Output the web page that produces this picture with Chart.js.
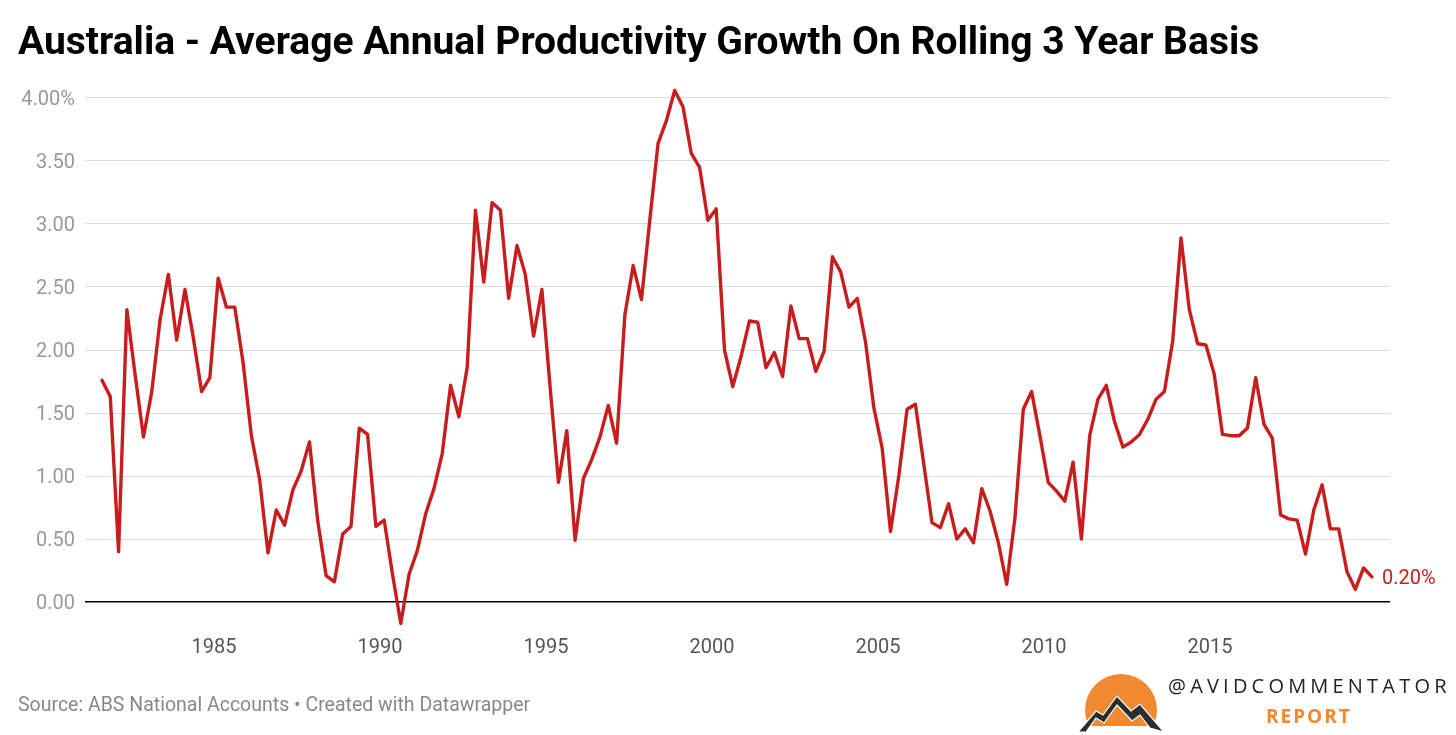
<!DOCTYPE html>
<html>
<head>
<meta charset="utf-8">
<script src="https://cdn.jsdelivr.net/npm/chart.js@4"></script>
<style>
  html, body { margin: 0; padding: 0; background: #fff; }
  body { width: 1456px; height: 735px; position: relative; overflow: hidden; font-family: Roboto, sans-serif; }
  #wrap { position: absolute; left: 0; top: 0; width: 1456px; height: 735px; }
  #title { position: absolute; left: 18px; top: 18px; font: bold 39px Roboto, sans-serif; color: #000; white-space: nowrap; line-height: normal; }
  #footer { position: absolute; left: 18px; top: 693px; font: 19.5px Roboto, sans-serif; color: #888; white-space: nowrap; }
  #brand1 { position: absolute; left: 1168px; top: 672px; font: 20px "Open Sans", sans-serif; color: #222; letter-spacing: 4.2px; white-space: nowrap; }
  #brand2 { position: absolute; left: 1266px; top: 703px; font: bold 19px "Open Sans", sans-serif; color: #f0892f; letter-spacing: 2px; white-space: nowrap; }
  #logo { position: absolute; left: 0; top: 0; }
</style>
</head>
<body>
<div id="wrap"><canvas id="chart" width="1456" height="735"></canvas></div>
<div id="title">Australia - Average Annual Productivity Growth On Rolling 3 Year Basis</div>
<div id="footer">Source: ABS National Accounts • Created with Datawrapper</div>
<svg id="logo" width="1456" height="735" viewBox="0 0 1456 735">
  <defs><clipPath id="cut"><rect x="1080" y="660" width="90" height="66"/></clipPath></defs>
  <circle cx="1121" cy="710" r="36" fill="#f0892f" clip-path="url(#cut)"/>
  <polygon points="1078,732 1096,711 1103,715 1117,696 1131,711 1140,704 1164,732 1150,728 1140,715 1132,721 1117,705 1104,723 1096,718 1086,732" fill="#2d2d2d" stroke="#fff" stroke-width="1.2"/>
</svg>
<div id="brand1">@AVIDCOMMENTATOR</div>
<div id="brand2">REPORT</div>
<script>
// ---- data ----
const startYear = 1981;
const startQuarter = 3;
const productivity = [
  1.76, 1.63, 0.40, 2.32, 1.80, 1.31, 1.67, 2.24, 2.60, 2.08,
  2.48, 2.10, 1.67, 1.78, 2.57, 2.34, 2.34, 1.90, 1.32, 0.97,
  0.39, 0.73, 0.61, 0.89, 1.04, 1.27, 0.64, 0.21, 0.16, 0.54,
  0.60, 1.38, 1.33, 0.60, 0.65, 0.22, -0.17, 0.22, 0.41, 0.70,
  0.90, 1.18, 1.72, 1.47, 1.86, 3.11, 2.54, 3.17, 3.11, 2.41,
  2.83, 2.60, 2.11, 2.48, 1.70, 0.95, 1.36, 0.49, 0.98, 1.13,
  1.31, 1.56, 1.26, 2.28, 2.67, 2.40, 3.03, 3.64, 3.82, 4.06,
  3.93, 3.56, 3.45, 3.03, 3.12, 2.00, 1.71, 1.95, 2.23, 2.22,
  1.86, 1.98, 1.79, 2.35, 2.09, 2.09, 1.83, 1.99, 2.74, 2.62,
  2.34, 2.41, 2.06, 1.54, 1.22, 0.56, 1.00, 1.53, 1.57, 1.10,
  0.63, 0.59, 0.78, 0.50, 0.58, 0.47, 0.90, 0.72, 0.47, 0.14,
  0.67, 1.53, 1.67, 1.32, 0.95, 0.88, 0.80, 1.11, 0.50, 1.32,
  1.61, 1.72, 1.43, 1.23, 1.27, 1.33, 1.45, 1.61, 1.67, 2.07,
  2.89, 2.32, 2.05, 2.04, 1.81, 1.33, 1.32, 1.32, 1.38, 1.78,
  1.41, 1.30, 0.69, 0.66, 0.65, 0.38, 0.73, 0.93, 0.58, 0.58,
  0.24, 0.10, 0.27, 0.20
];
const yTicks = [0, 0.5, 1, 1.5, 2, 2.5, 3, 3.5, 4];
const xTicks = [1985, 1990, 1995, 2000, 2005, 2010, 2015];

// quarter categories
const quarters = productivity.map((_, i) => {
  const q0 = (startQuarter - 1) + i;
  return { year: startYear + Math.floor(q0 / 4), q: (q0 % 4) + 1 };
});
const points = quarters.map((d, i) => ({ x: d.year + (d.q - 0.5) / 4, y: productivity[i] }));

const RED = '#c71e1d';

const endLabel = {
  id: 'endLabel',
  afterDatasetsDraw(chart) {
    const meta = chart.getDatasetMeta(0);
    const last = meta.data[meta.data.length - 1];
    const v = productivity[productivity.length - 1];
    const ctx = chart.ctx;
    ctx.save();
    ctx.font = '20px Roboto, sans-serif';
    ctx.fillStyle = RED;
    ctx.textAlign = 'left';
    ctx.textBaseline = 'middle';
    ctx.fillText(v.toFixed(2) + '%', last.x + 10, last.y + 2);
    ctx.restore();
  }
};

new Chart(document.getElementById('chart'), {
  type: 'line',
  data: {
    datasets: [{
      data: points,
      borderColor: RED,
      borderWidth: 3.4,
      pointRadius: 0,
      tension: 0,
      fill: false,
      clip: false,
      borderJoinStyle: 'round',
      borderCapStyle: 'round'
    }]
  },
  options: {
    responsive: false,
    animation: false,
    devicePixelRatio: 1,
    layout: { padding: { left: 0, right: 66, top: 85.4, bottom: 67.8 } },
    plugins: { legend: { display: false }, tooltip: { enabled: false }, title: { display: false } },
    scales: {
      x: {
        type: 'linear',
        min: 1981.114,
        max: 2020.42,
        afterBuildTicks: (s) => { s.ticks = xTicks.map(v => ({ value: v })); },
        afterFit: (s) => { s.height = 40; },
        grid: { display: false, drawTicks: false },
        border: { display: false },
        ticks: {
          autoSkip: false,
          maxRotation: 0,
          padding: 9,
          color: '#555',
          font: { family: 'Roboto', size: 20 },
          callback: (v) => String(v)
        }
      },
      y: {
        type: 'linear',
        min: -0.2,
        max: 4.1,
        afterBuildTicks: (s) => { s.ticks = yTicks.map(v => ({ value: v })); },
        afterFit: (s) => { s.width = 85; },
        grid: {
          drawTicks: false,
          color: (c) => (c.tick && c.tick.value === 0) ? '#000' : '#dddddd',
          lineWidth: (c) => (c.tick && c.tick.value === 0) ? 1.5 : 1
        },
        border: { display: false },
        ticks: {
          padding: 10,
          labelOffset: 2,
          color: '#999',
          font: { family: 'Roboto', size: 20 },
          callback: (v) => v === 4 ? v.toFixed(2) + '%' : v.toFixed(2)
        }
      }
    }
  },
  plugins: [endLabel]
});
</script>
</body>
</html>
